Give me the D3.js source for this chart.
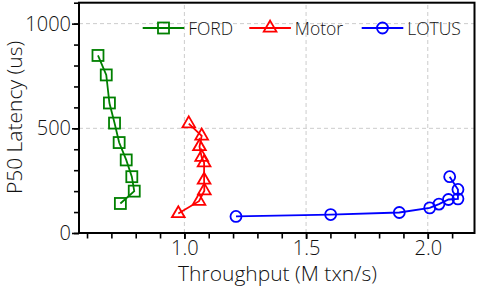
<!DOCTYPE html>
<html><head><meta charset="utf-8">
<script src="https://cdn.jsdelivr.net/npm/d3@7"></script>
<style>
html,body{margin:0;padding:0;background:#fff;}
svg{display:block;font-family:"Open Sans",sans-serif;}
svg text{font-weight:300;}
</style></head>
<body><div id="chart"></div>
<script>
const fordX = [0.645, 0.679, 0.692, 0.713, 0.732, 0.761, 0.784, 0.794, 0.737];
const fordY = [848, 755, 621, 525, 432, 349, 269, 200, 141];
const motorX = [1.018, 1.071, 1.062, 1.071, 1.081, 1.081, 1.082, 1.060, 0.975];
const motorY = [522, 464, 413, 362, 336, 253, 202, 152, 93];
const lotusX = [1.212, 1.601, 1.883, 2.008, 2.046, 2.085, 2.124, 2.124, 2.090];
const lotusY = [79, 88, 98, 120, 138, 160, 163, 208, 269];
const seriesNames = ["FORD", "Motor", "LOTUS"];
const seriesColors = ["#008000", "#ff0000", "#0000ff"];
const seriesMarkers = ["square", "triangle", "circle"];
const xMajor = [1.0, 1.5, 2.0];
const xMinor = [0.6,0.7,0.8,0.9,1.0,1.1,1.2,1.3,1.4,1.5,1.6,1.7,1.8,1.9,2.0,2.1];
const yMajor = [0, 500, 1000];
const yMinor = [0,100,200,300,400,500,600,700,800,900,1000,1100];
const xTitle = "Throughput (M txn/s)";
const yTitle = "P50 Latency (us)";

const W = 479, H = 287;
const m = {left: 79, right: 4.5, top: 2.7, bottom: 54};
const svg = d3.select("#chart").append("svg").attr("width", W).attr("height", H);
const x = d3.scaleLinear().domain([0.567, 2.192]).range([m.left, W - m.right]);
const y = d3.scaleLinear().domain([0, 1100]).range([H - m.bottom, m.top]);

// grid
const grid = svg.append("g").attr("stroke", "#cccccc").attr("stroke-width", 1).attr("stroke-dasharray", "4,3");
grid.selectAll(".gx").data(xMajor).join("line")
  .attr("x1", d => x(d)).attr("x2", d => x(d)).attr("y1", y(0)).attr("y2", y(1100));
grid.selectAll(".gy").data(yMajor.filter(d => d > 0)).join("line")
  .attr("y1", d => y(d)).attr("y2", d => y(d)).attr("x1", x.range()[0]).attr("x2", x.range()[1]);

// axes
const fs = 20;
const xAxisMinor = d3.axisBottom(x).tickValues(xMinor).tickSize(5.5).tickFormat("");
const xAxisMajor = d3.axisBottom(x).tickValues(xMajor).tickSize(6).tickPadding(2).tickFormat(d3.format(".1f"));
const yAxisMinor = d3.axisLeft(y).tickValues(yMinor).tickSize(5).tickFormat("");
const yAxisMajor = d3.axisLeft(y).tickValues(yMajor).tickSize(7).tickPadding(1).tickFormat(d3.format("d"));

function styleAxis(g){
  g.select(".domain").remove();
  g.selectAll("line").attr("stroke", "#000").attr("stroke-width", 1.6);
  g.selectAll("text").attr("fill", "#111").style("font-size", fs + "px").style("font-family", "'Open Sans',sans-serif");
}
svg.append("g").attr("transform", `translate(0,${y(0)})`).call(xAxisMinor).call(styleAxis);
svg.append("g").attr("transform", `translate(0,${y(0)})`).call(xAxisMajor).call(styleAxis);
svg.append("g").attr("transform", `translate(${x.range()[0]},0)`).call(yAxisMinor).call(styleAxis);
svg.append("g").attr("transform", `translate(${x.range()[0]},0)`).call(yAxisMajor).call(styleAxis);

// frame
svg.append("rect").attr("x", x.range()[0]).attr("y", y(1100))
  .attr("width", x.range()[1] - x.range()[0]).attr("height", y(0) - y(1100))
  .attr("fill", "none").attr("stroke", "#000").attr("stroke-width", 2);

// titles
svg.append("text").attr("x", 277.5).attr("y", 280.5).attr("text-anchor", "middle")
  .style("font-size", "21px").attr("fill", "#111").text(xTitle);
svg.append("text").attr("transform", "translate(21.5,117.5) rotate(-90)").attr("text-anchor", "middle")
  .style("font-size", "21px").attr("fill", "#111").text(yTitle);

// markers
function marker(g, type, color){
  if (type === "square") g.append("rect").attr("x", -5.5).attr("y", -5.5).attr("width", 11).attr("height", 11)
     .attr("fill", "none").attr("stroke", color).attr("stroke-width", 1.8);
  else if (type === "triangle") g.append("path").attr("d", d3.symbol(d3.symbolTriangle, 70)())
     .attr("fill", "none").attr("stroke", color).attr("stroke-width", 1.8);
  else g.append("circle").attr("r", 5.5).attr("fill", "none").attr("stroke", color).attr("stroke-width", 1.8);
}
const allX = [fordX, motorX, lotusX], allY = [fordY, motorY, lotusY];
const line = d3.line().x(d => x(d[0])).y(d => y(d[1]));
seriesNames.forEach((name, i) => {
  const pts = allX[i].map((v, j) => [v, allY[i][j]]);
  svg.append("path").datum(pts).attr("d", line).attr("fill", "none")
    .attr("stroke", seriesColors[i]).attr("stroke-width", 1.8);
  pts.forEach(p => {
    const g = svg.append("g").attr("transform", `translate(${x(p[0])},${y(p[1])})`);
    marker(g, seriesMarkers[i], seriesColors[i]);
  });
});

// legend
const legX = [142.7, 249.3, 361.7];
const legY = 28;
seriesNames.forEach((name, i) => {
  const g = svg.append("g").attr("transform", `translate(${legX[i]},${legY})`);
  g.append("line").attr("x1", 0).attr("x2", 41.6).attr("stroke", seriesColors[i]).attr("stroke-width", 1.8);
  const mg = g.append("g").attr("transform", "translate(20.8,0)");
  marker(mg, seriesMarkers[i], seriesColors[i]);
  g.append("text").attr("x", 45.5).attr("y", 6.8).style("font-size", "17.5px").attr("fill", "#111").text(name);
});
</script></body></html>
